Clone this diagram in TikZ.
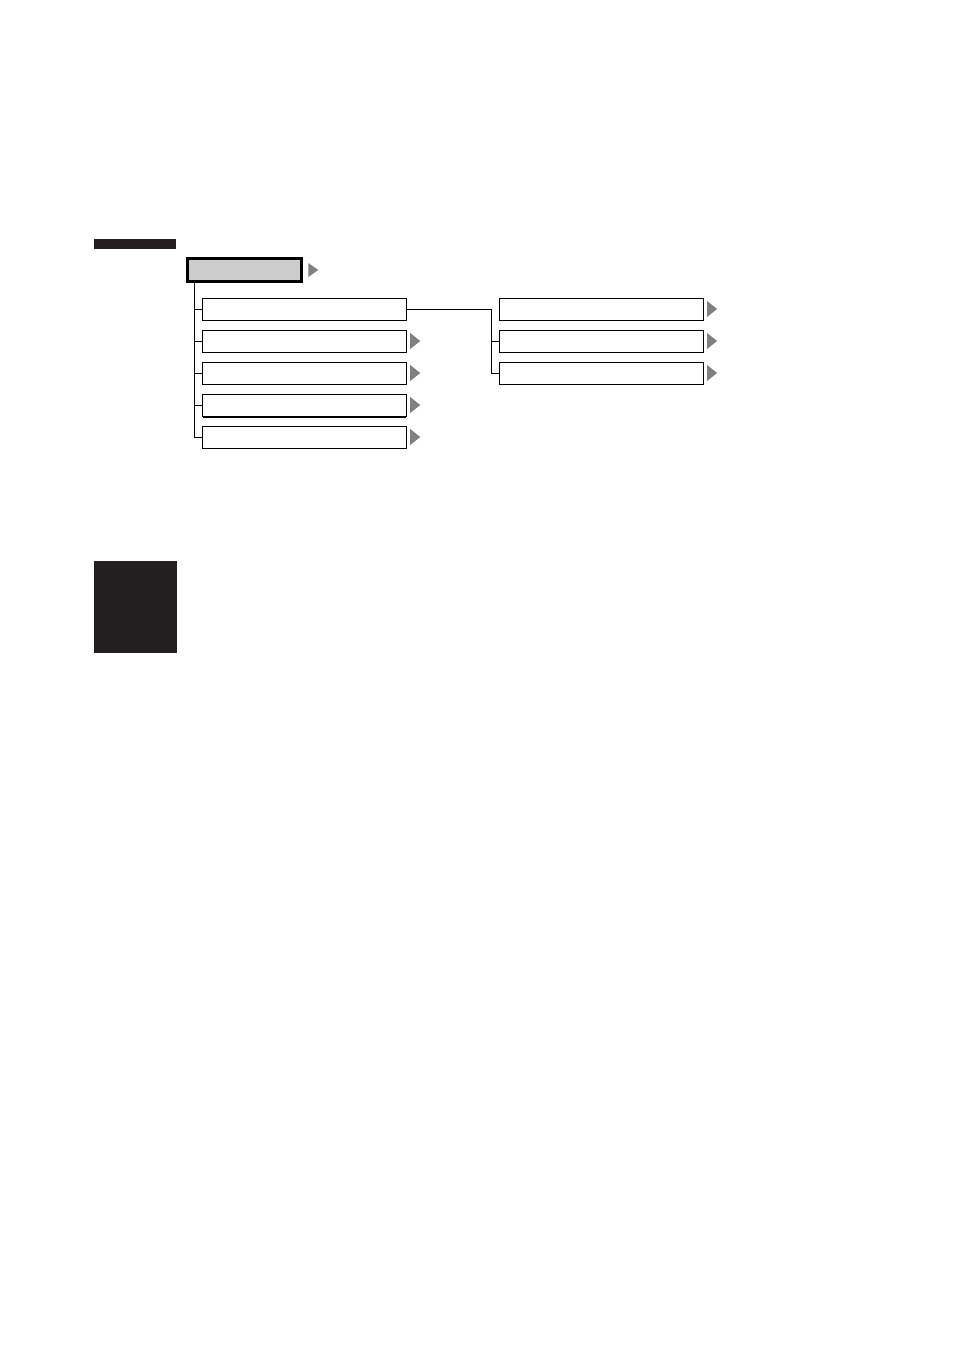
\documentclass[tikz,border=0pt]{standalone}
\usepackage{tikz}
\usetikzlibrary{positioning}
\definecolor{tabdark}{HTML}{231F20}

\begin{document}
\begin{tikzpicture}[x=1pt,y=-1pt,line width=1pt,node distance=10pt]
    \tikzstyle{root node}=[draw,line width=2.7pt,fill=black!20,minimum width=114pt,minimum height=23.3pt,inner sep=0,outer sep=0]
    \tikzstyle{menu node}=[draw,line width=1pt,fill=white,minimum width=203.4pt,minimum height=22pt,inner sep=0,outer sep=0]
    \tikzstyle{gray tip}=[fill=black!50]

    \useasboundingbox (0,0) rectangle (954,1350);
    \fill[tabdark] (94,239.3) rectangle (176,249.3);
    \fill[tabdark] (94,561) rectangle (177,652.7);

    \node(root)[root node] at (244.3,270){};
    \node(b1)[menu node] at (304.5,309){};
    \node(b2)[menu node,below=of b1]{};
    \node(b3)[menu node,below=of b2]{};
    \node(b4)[menu node,below=of b3]{};
    \node(b5)[menu node,below=of b4]{};
    \node(c1)[menu node,right=93.5pt of b1]{};
    \node(c2)[menu node,below=of c1]{};
    \node(c3)[menu node,below=of c2]{};

    % left tree
    \coordinate (trunk) at ([xshift=7pt]root.south west);
    \draw (trunk) |- (b5.west);
    \foreach \n in {b1,b2,b3,b4}
        \draw (trunk |- \n.west) -- (\n.west);
    \draw[line width=2pt] ([yshift=-0.5pt]b4.south west) -- ([yshift=-0.5pt]b4.south east);

    % right tree
    \coordinate (fork) at ([xshift=-8pt]c1.west);
    \draw (b1.east) -- (fork) |- (c3.west);
    \draw (fork |- c2.west) -- (c2.west);

    \fill[gray tip] ([xshift=7pt]root.east) ++(0,-7) -- ++(10,7) -- ++(-10,7) -- cycle;
    \foreach \n in {b2,b3,b4,b5,c1,c2,c3}
        \fill[gray tip] ([xshift=4pt]\n.east) ++(0,-8) -- ++(10,8) -- ++(-10,8) -- cycle;
\end{tikzpicture}
\end{document}
